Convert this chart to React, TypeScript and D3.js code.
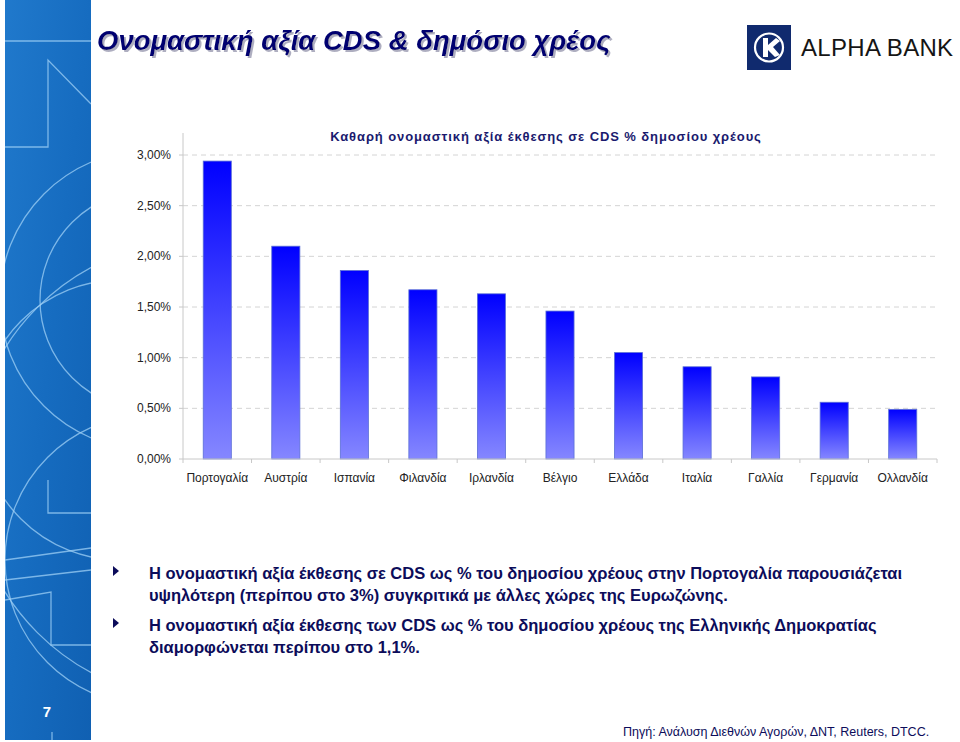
import React from 'react';
import * as d3 from 'd3';

const categories = ['Πορτογαλία', 'Αυστρία', 'Ισπανία', 'Φιλανδία', 'Ιρλανδία', 'Βέλγιο', 'Ελλάδα', 'Ιταλία', 'Γαλλία', 'Γερμανία', 'Ολλανδία'];
const values = [2.94, 2.10, 1.86, 1.67, 1.63, 1.46, 1.05, 0.91, 0.81, 0.56, 0.49];
const yTicks = [0, 0.5, 1, 1.5, 2, 2.5, 3];

const pageTitle = 'Ονομαστική αξία CDS & δημόσιο χρέος';
const chartTitle = 'Καθαρή ονομαστική αξία έκθεσης σε CDS % δημοσίου χρέους';
const bullets = [
  ['Η ονομαστική αξία έκθεσης σε CDS ως % του δημοσίου χρέους στην Πορτογαλία παρουσιάζεται', 'υψηλότερη (περίπου στο 3%) συγκριτικά με άλλες χώρες της Ευρωζώνης.'],
  ['Η ονομαστική αξία έκθεσης των CDS ως % του δημοσίου χρέους της Ελληνικής Δημοκρατίας', 'διαμορφώνεται περίπου στο 1,1%.'],
];
const source = 'Πηγή: Ανάλυση Διεθνών Αγορών, ΔΝΤ, Reuters, DTCC.';

const fmt = (v: number) => v.toFixed(2).replace('.', ',') + '%';

export default function App() {
  const x = d3.scaleBand<string>().domain(categories).range([183, 937]).padding(0);
  const y = d3.scaleLinear().domain([0, 3]).range([459, 155]);
  const step = x.step();
  const barW = step * 0.41;
  const navy = '#0c0c5a';
  const font = 'Arial, "Liberation Sans", sans-serif';

  return (
    <svg width={960} height={742} style={{ position: 'absolute', left: 0, top: 0, background: '#fff' }} fontFamily={font}>
      <defs>
        <linearGradient id="barGrad" x1="0" y1="0" x2="0" y2="1">
          <stop offset="0" stopColor="#0000ff" />
          <stop offset="1" stopColor="#8587ff" />
        </linearGradient>
        <linearGradient id="stripGrad" x1="0" y1="0" x2="1" y2="1">
          <stop offset="0" stopColor="#2079cc" />
          <stop offset="0.5" stopColor="#166cc0" />
          <stop offset="1" stopColor="#1060b2" />
        </linearGradient>
        <clipPath id="stripClip">
          <rect x={5} y={0} width={86} height={740} />
        </clipPath>
        <filter id="shadow" x="-5%" y="-20%" width="110%" height="150%">
          <feDropShadow dx={2} dy={2} stdDeviation={0.6} floodColor="#9a9ab0" floodOpacity={0.8} />
        </filter>
      </defs>

      {/* left decorative strip */}
      <rect x={5} y={0} width={86} height={740} fill="url(#stripGrad)" />
      <g clipPath="url(#stripClip)" fill="none" stroke="#9fd0f5" strokeOpacity={0.75} strokeWidth={1.3}>
        <line x1={5} y1={41} x2={91} y2={41} />
        <polyline points="91,104 48,60 48,147 5,147" />
        <circle cx={150} cy={300} r={150} />
        <circle cx={150} cy={300} r={110} />
        <circle cx={120} cy={420} r={140} />
        <circle cx={150} cy={560} r={145} />
        <circle cx={200} cy={470} r={230} />
        <line x1={5} y1={560} x2={91} y2={548} />
        <line x1={5} y1={580} x2={91} y2={570} />
        <polyline points="5,600 51,592 51,645 91,645" />
        <polyline points="48,480 48,513 91,513" />
        <line x1={52} y1={732} x2={52} y2={742} />
      </g>
      <text x={47} y={717} textAnchor="middle" fill="#fff" fontWeight="bold" fontSize={15}>7</text>

      {/* page title */}
      <text x={97} y={50} fill="#000070" fontSize={27.5} fontWeight="bold" fontStyle="italic" filter="url(#shadow)">{pageTitle}</text>

      {/* logo */}
      <rect x={747} y={25} width={44} height={45} fill="#102a6e" />
      <circle cx={769} cy={47.5} r={14} fill="none" stroke="#fff" strokeWidth={2.2} />
      <path d="M763,38 L768,38 L768,45 L776,38 L780,41 L773,47 L780,55 L775,57 L768,50 L768,57 L763,57 Z" fill="#fff" />
      <text x={801} y={56} fill="#151515" fontSize={24} letterSpacing={0.3}>ALPHA BANK</text>

      {/* chart title */}
      <text x={546} y={141} textAnchor="middle" fill="#1a1a6e" fontSize={13} fontWeight="bold" letterSpacing={0.9}>{chartTitle}</text>

      {/* gridlines */}
      {yTicks.filter(t => t > 0).map(t => (
        <line key={t} x1={183} x2={937} y1={y(t)} y2={y(t)} stroke="#d4d4d4" strokeDasharray="5,4" />
      ))}
      {/* y axis */}
      <line x1={183} x2={183} y1={133} y2={459} stroke="#c8c8c8" />
      {yTicks.map(t => (
        <g key={t}>
          <line x1={179} x2={183} y1={y(t)} y2={y(t)} stroke="#c8c8c8" />
          <text x={171} y={y(t) + 4} textAnchor="end" fontSize={12} fill="#222">{fmt(t)}</text>
        </g>
      ))}

      {/* bars */}
      {categories.map((c, i) => {
        const cx = (x(c) as number) + step / 2;
        return (
          <rect key={c} x={cx - barW / 2} y={y(values[i])} width={barW} height={y(0) - y(values[i])}
            fill="url(#barGrad)" stroke="#5b6fd6" strokeWidth={0.8} />
        );
      })}

      {/* x axis */}
      <line x1={183} x2={937} y1={459} y2={459} stroke="#c8c8c8" />
      {categories.map(c => (
        <line key={c} x1={x(c) as number} x2={x(c) as number} y1={459} y2={463} stroke="#c8c8c8" />
      ))}
      <line x1={937} x2={937} y1={459} y2={463} stroke="#c8c8c8" />
      {categories.map(c => (
        <text key={c} x={(x(c) as number) + step / 2} y={482} textAnchor="middle" fontSize={12} fill="#222">{c}</text>
      ))}

      {/* bullets */}
      {bullets.map((b, i) => {
        const y0 = 579 + i * 52;
        return (
          <g key={i}>
            <path d={`M113,${y0 - 13} L119,${y0 - 8} L113,${y0 - 3} Z`} fill={navy} />
            <text x={149} y={y0} fontSize={16.5} fontWeight="bold" fill={navy}>{b[0]}</text>
            <text x={149} y={y0 + 22} fontSize={16.5} fontWeight="bold" fill={navy}>{b[1]}</text>
          </g>
        );
      })}

      {/* source */}
      <text x={623} y={736} fontSize={12.5} fill={navy}>{source}</text>
    </svg>
  );
}
